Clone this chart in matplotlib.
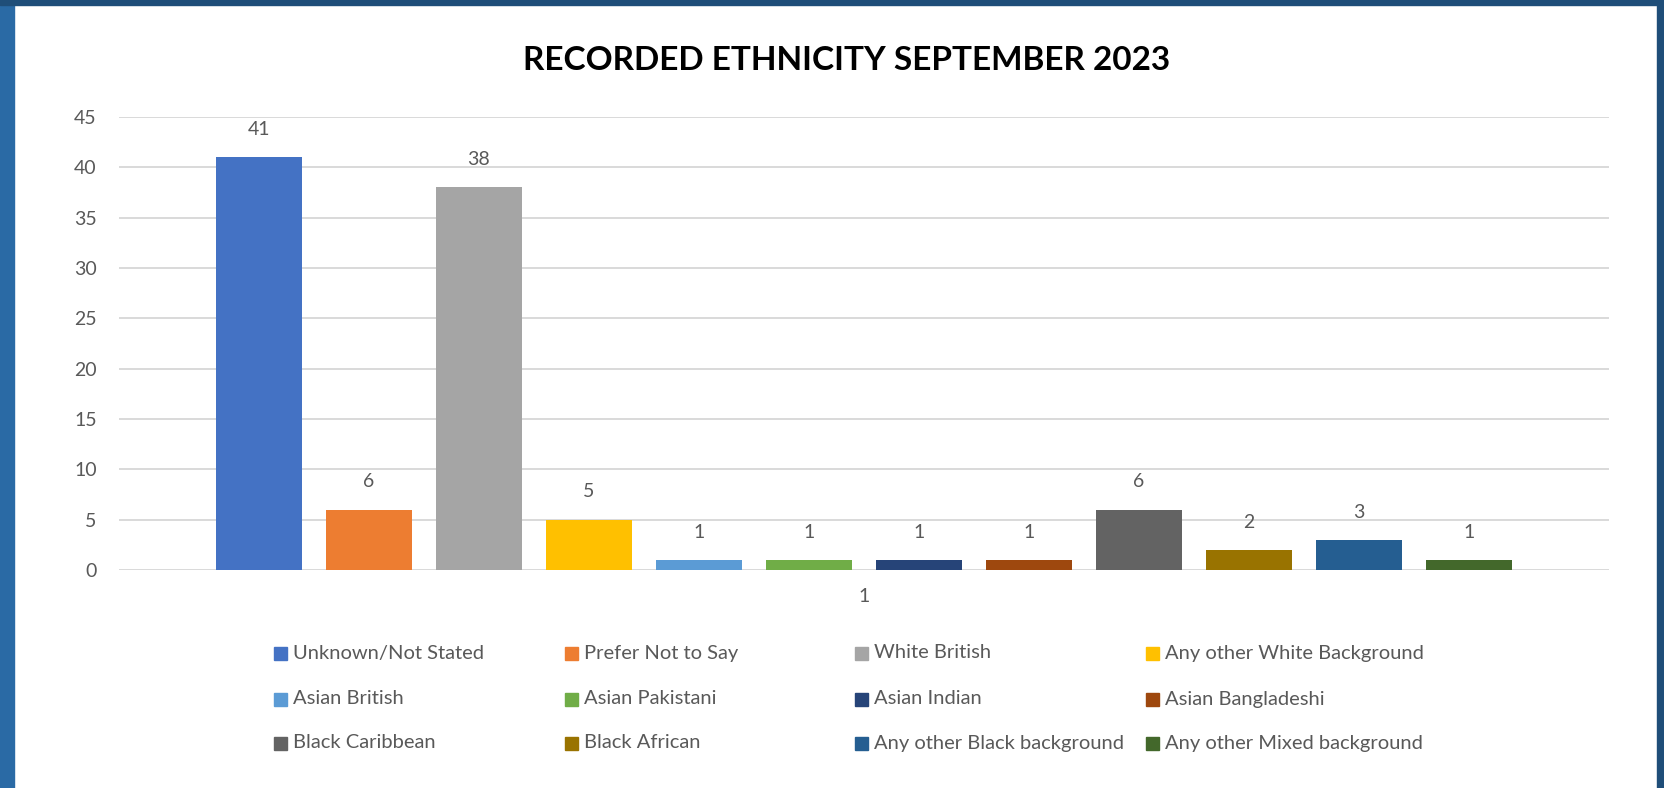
import matplotlib
matplotlib.use('Agg')
import matplotlib.pyplot as plt
from matplotlib.patches import Rectangle
import numpy as np

# data
categories = ['Unknown/Not Stated', 'Prefer Not to Say', 'White British', 'Any other White Background',
              'Asian British', 'Asian Pakistani', 'Asian Indian', 'Asian Bangladeshi',
              'Black Caribbean', 'Black African', 'Any other Black background', 'Any other Mixed background']
counts = [41, 6, 38, 5, 1, 1, 1, 1, 6, 2, 3, 1]
colors = ['#4472C4', '#ED7D31', '#A5A5A5', '#FFC000', '#5B9BD5', '#70AD47',
          '#264478', '#9E480E', '#636363', '#997300', '#255E91', '#43682B']
y_ticks = [0, 5, 10, 15, 20, 25, 30, 35, 40, 45]
group_label = '1'

plt.rcParams['font.family'] = ['Lato', 'DejaVu Sans']
txt_color = '#595959'
W, H = 1665, 788

fig = plt.figure(figsize=(W / 100, H / 100), dpi=100)
fig.patch.set_facecolor('white')

# page border strips
fig.patches.append(Rectangle((0, 0), 14 / W, 1, transform=fig.transFigure, color='#2A6AA5', zorder=0))
fig.patches.append(Rectangle((0, 1 - 5 / H), 1, 5 / H, transform=fig.transFigure, color='#1F4E79', zorder=0))
fig.patches.append(Rectangle((1657 / W, 0), 8 / W, 1, transform=fig.transFigure, color='#1F4E79', zorder=0))

ax = fig.add_axes([119 / W, 218 / H, 1490 / W, 453 / H])
x = np.arange(len(counts))
ax.bar(x, counts, width=0.785, color=colors, zorder=3)
for xi, v in zip(x, counts):
    ax.annotate(str(v), (xi, v), xytext=(0, 20), textcoords='offset points',
                ha='center', va='center', fontsize=14, color=txt_color)

ax.set_xlim(5.5 - 6.77, 5.5 + 6.77)
ax.set_ylim(0, 45)
ax.set_yticks(y_ticks)
ax.set_xticks([5.5], [group_label])
ax.tick_params(axis='y', length=0, pad=16, labelsize=14, labelcolor=txt_color)
ax.tick_params(axis='x', length=0, pad=13, labelsize=14, labelcolor=txt_color)
ax.grid(axis='y', color='#D9D9D9', linewidth=1.4, zorder=0)
ax.set_axisbelow(True)
for s in ax.spines.values():
    s.set_visible(False)

fig.text(847 / W, 1 - 60 / H, 'RECORDED ETHNICITY SEPTEMBER 2023', ha='center', va='center',
         fontsize=24, fontweight='bold', color='black')

# legend laid out row by row like the original
col_x = [274, 565, 855, 1146]
row_y = [653, 699, 743]
for i, (lab, c) in enumerate(zip(categories, colors)):
    r, k = divmod(i, 4)
    px, py = col_x[k], row_y[r]
    fig.patches.append(Rectangle((px / W, 1 - (py + 6.5) / H), 13 / W, 13 / H,
                                 transform=fig.transFigure, color=c))
    fig.text((px + 19) / W, 1 - py / H, lab, ha='left', va='center', fontsize=14.5, color=txt_color)

fig.savefig('out.png', dpi=100)
